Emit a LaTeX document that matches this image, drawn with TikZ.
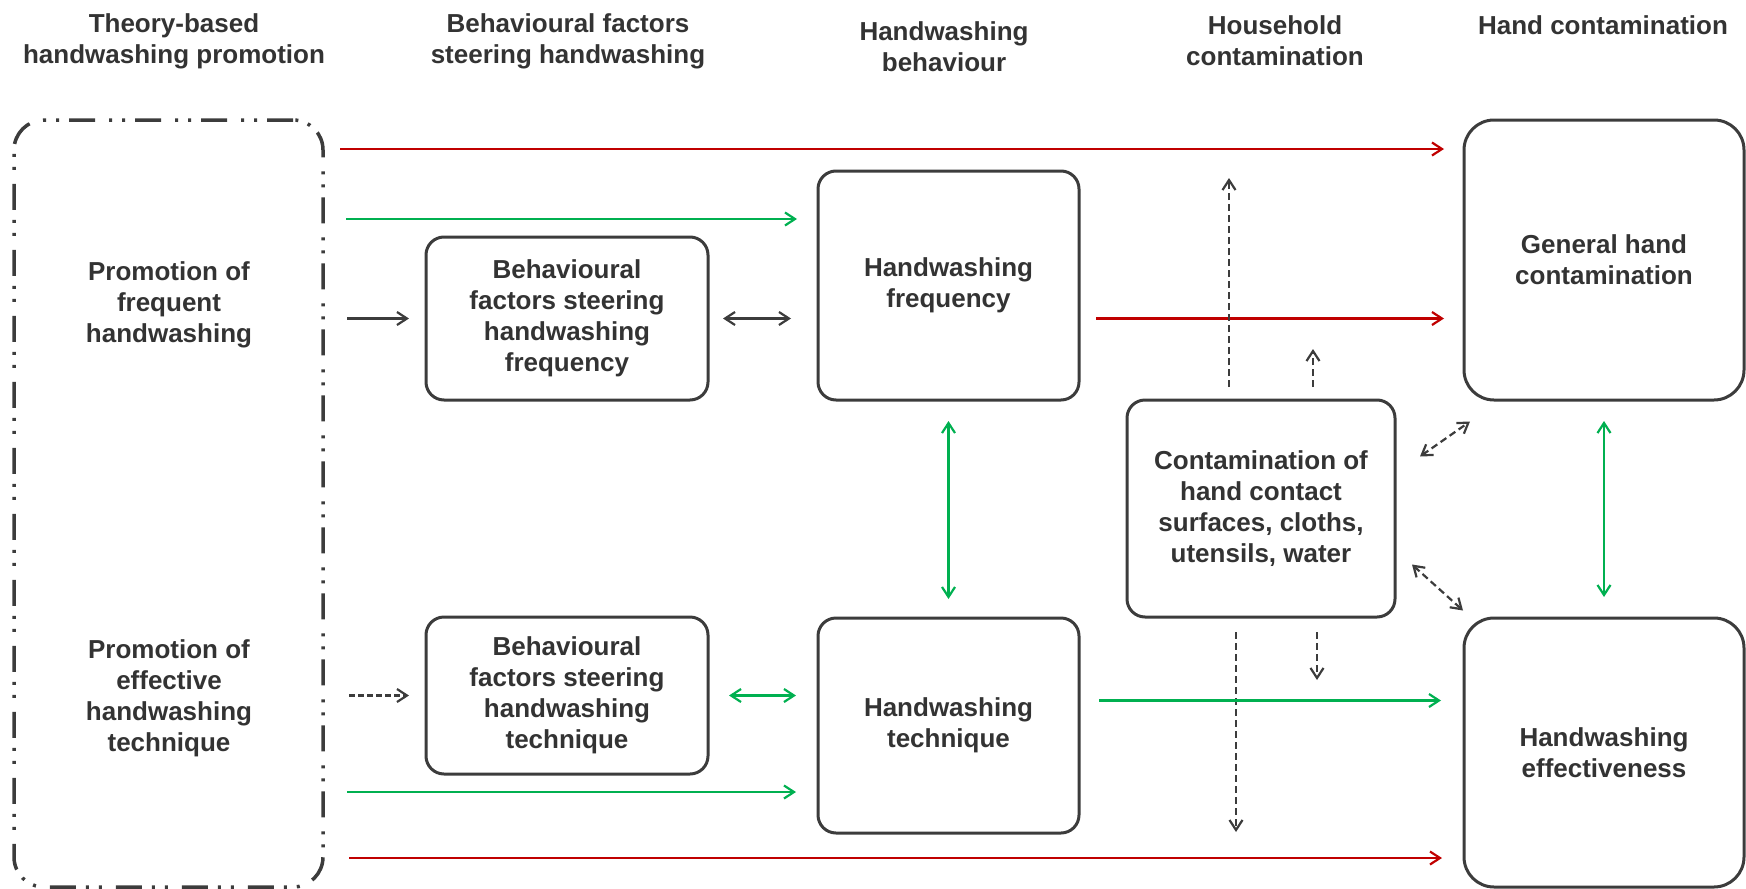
\documentclass[tikz,border=0pt]{standalone}
\usepackage{fontspec}
\setmainfont{Liberation Sans}
\usetikzlibrary{arrows.meta, positioning, calc}
\definecolor{ink}{RGB}{51,51,51}
\definecolor{edge}{RGB}{60,60,60}
\definecolor{redline}{RGB}{192,0,0}
\definecolor{greenline}{RGB}{0,176,80}

\begin{document}
\begin{tikzpicture}[x=1pt, y=-1pt,
  every node/.style={font=\bfseries\fontsize{26}{31}\selectfont, text=ink, align=center},
  >={Straight Barb[length=10pt, width=13pt]},
  box/.style={draw=edge, line width=3pt, rounded corners=18pt, inner sep=0pt, outer sep=0pt},
  bigbox/.style={box, rounded corners=30pt},
  promobox/.style={draw=edge, line width=3.5pt, rounded corners=30pt, outer sep=0pt,
    dash pattern=on 26pt off 10pt on 3pt off 10pt on 3pt off 14pt},
  redln/.style={draw=redline, line width=2.2pt},
  grnln/.style={draw=greenline, line width=2.2pt},
  blkln/.style={draw=edge, line width=2.2pt},
  dshln/.style={draw=edge, line width=2.2pt, dash pattern=on 7pt off 4pt}]
  \useasboundingbox (0,0) rectangle (1746,889);
  % column headings
  \node (hpromo) at (174,41.5) {Theory-based\\handwashing promotion};
  \node (hfact) at (568,41.5) {Behavioural factors\\steering handwashing};
  \node (hbeh) at (944,46.5) {Handwashing\\behaviour};
  \node (hhouse) at (1275,40.5) {Household\\contamination};
  \node (hhand) at (1603,25) {Hand contamination};
  % boxes
  \node[promobox, minimum width=309pt, minimum height=767pt] (promo) at (168.5,503.5) {};
  \node (pfreq) at (169,304.5) {Promotion of\\frequent\\handwashing};
  \node (ptech) at (169,698) {Promotion of\\effective\\handwashing\\technique};
  \node[box, minimum width=282pt, minimum height=163pt] (bff) at (567,318.5)
    {Behavioural\\factors steering\\handwashing\\frequency};
  \node[box, minimum width=282pt, minimum height=157pt] (bft) at (567,695.5)
    {Behavioural\\factors steering\\handwashing\\technique};
  \node[box, minimum width=261pt, minimum height=229pt] (hwf) at (948.5,285.5)
    {Handwashing\\frequency};
  \node[box, minimum width=261pt, minimum height=215pt] (hwt) at (948.5,725.5)
    {Handwashing\\technique};
  \node[box, minimum width=268pt, minimum height=217pt] (hhc) at (1261,508.5)
    {Contamination of\\hand contact\\surfaces, cloths,\\utensils, water};
  \node[bigbox, minimum width=280pt, minimum height=280pt] (gen) at (1604,260)
    {General hand\\contamination};
  \node[bigbox, minimum width=280pt, minimum height=269pt] (eff) at (1604,752.5)
    {Handwashing\\effectiveness};
  % connectors
  \draw[redln, ->, shorten <=17pt, shorten >=20pt] ([yshift=-29pt]promo.north east) -- ([yshift=-29pt]gen.north west);
  \draw[grnln, ->, shorten <=23pt, shorten >=21pt] ([yshift=-48pt]promo.east |- hwf.north) -- ([yshift=-48pt]hwf.north west);
  \draw[blkln, ->, shorten <=24pt, shorten >=17pt] (promo.east |- bff.west) -- (bff.west);
  \draw[blkln, <->, shorten <=15pt, shorten >=27pt] (bff.east) -- (bff.east -| hwf.west);
  \draw[redln, ->, shorten <=17pt, shorten >=20pt] (hwf.east |- bff.east) -- (bff.east -| gen.west);
  \draw[dshln, ->] ([shift={(-32,-13)}]hhc.north) -- ++(0,-209);
  \draw[dshln, ->] ([shift={(52,-13)}]hhc.north) -- ++(0,-38);
  \draw[dshln, <->] ([shift={(25,-52)}]hhc.east) -- ++(50,-35);
  \draw[dshln, <->] ([shift={(17,56)}]hhc.east) -- ++(51,46);
  \draw[dshln, ->] ([shift={(56,15)}]hhc.south) -- ++(0,48);
  \draw[dshln, ->] ([shift={(-25,15)}]hhc.south) -- ++(0,200);
  \draw[grnln, <->, shorten <=21pt, shorten >=19pt] (hwf.south) -- (hwt.north);
  \draw[grnln, <->, shorten <=21pt, shorten >=21pt] (gen.south) -- (eff.north);
  \draw[grnln, <->, shorten <=21pt, shorten >=22pt] (bft.east) -- (bft.east -| hwt.west);
  \draw[blkln, dash pattern=on 6pt off 3pt, ->, shorten <=26pt, shorten >=17pt] (promo.east |- bft.west) -- (bft.west);
  \draw[grnln, ->, shorten <=20pt, shorten >=23pt] ([yshift=-5pt]hwt.east |- bft.east) -- ([yshift=-5pt]bft.east -| eff.west);
  \draw[grnln, ->, shorten <=24pt, shorten >=22pt] ([yshift=41pt]promo.east |- hwt.south) -- ([yshift=41pt]hwt.south west);
  \draw[redln, ->, shorten <=26pt, shorten >=22pt] ([yshift=29pt]promo.east |- eff.south) -- ([yshift=29pt]eff.south west);
\end{tikzpicture}
\end{document}
